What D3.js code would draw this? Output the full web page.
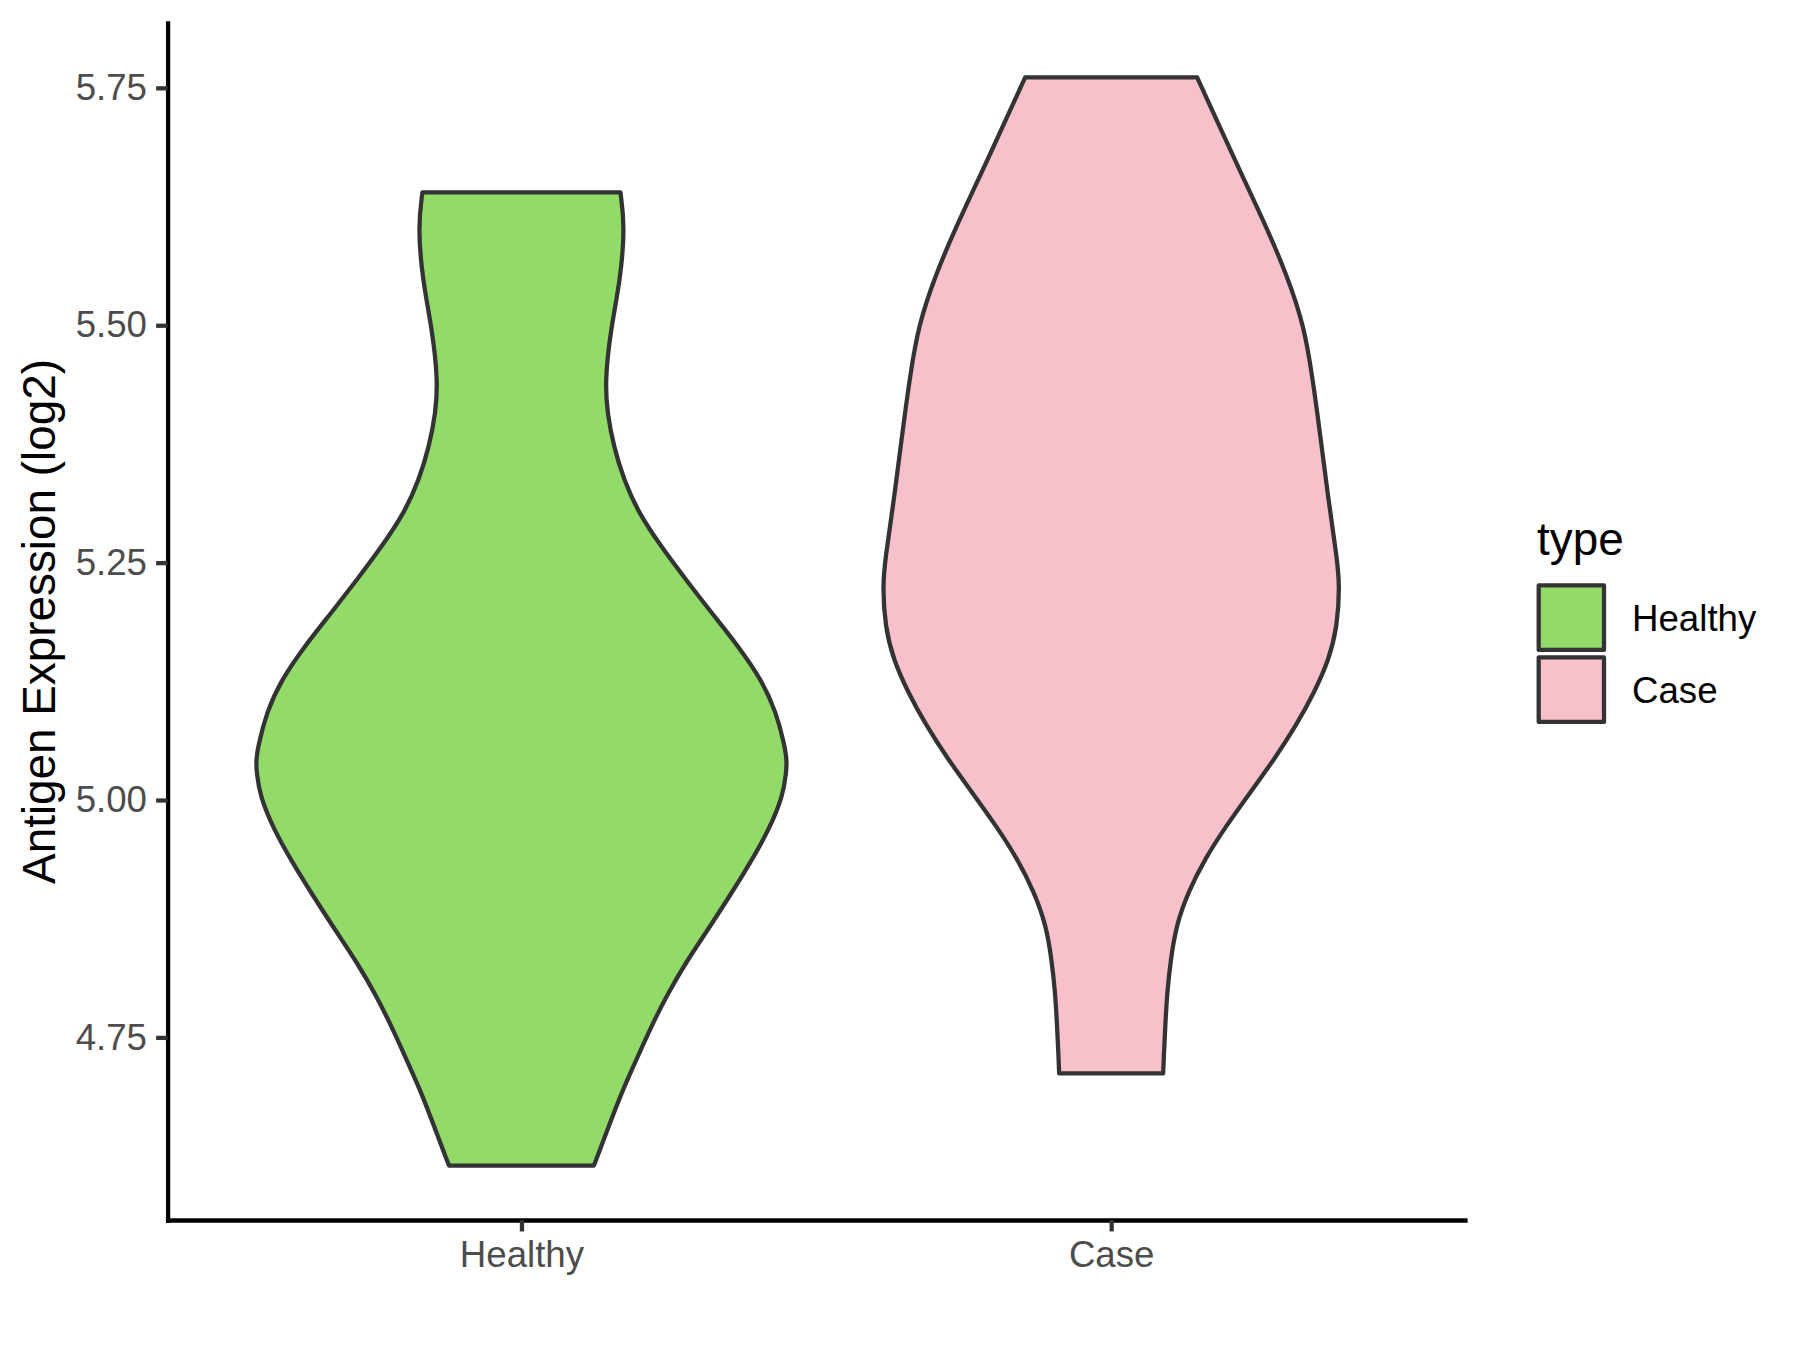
<!DOCTYPE html>
<html>
<head>
<meta charset="utf-8">
<script src="https://cdn.jsdelivr.net/npm/d3@7"></script>
<style>
	html, body { margin: 0; padding: 0; background: #fff; }
	svg { display: block; font-family: 'Liberation Sans', Arial, sans-serif; }
</style>
</head>
<body>
<svg id="violin-chart"></svg>
<script>
// groups and fills
var categories = ['Healthy', 'Case'];
var fills = ['#93DB69', '#F7C0CB'];
var yTicks = [4.75, 5.00, 5.25, 5.50, 5.75];

// violin outlines: expression level and relative density (1 = widest)
var healthyY = [5.640, 5.604, 5.548, 5.495, 5.442, 5.408, 5.372, 5.337, 5.303, 5.267, 5.232, 5.197, 5.162, 5.127,
	5.092, 5.057, 5.042, 5.029, 5.004, 4.970, 4.935, 4.899, 4.864, 4.830, 4.794, 4.759, 4.724, 4.689, 4.654, 4.615];
var healthyDensity = [0.373, 0.390, 0.373, 0.336, 0.315, 0.323, 0.348, 0.386, 0.440, 0.526, 0.620, 0.717, 0.817, 0.904,
	0.961, 0.992, 1.000, 0.998, 0.985, 0.935, 0.865, 0.785, 0.704, 0.622, 0.547, 0.485, 0.429, 0.373, 0.326, 0.273];

var caseY = [5.761, 5.709, 5.656, 5.604, 5.551, 5.499, 5.446, 5.393, 5.323, 5.253, 5.225, 5.183, 5.148, 5.113,
	5.078, 5.043, 5.008, 4.973, 4.938, 4.903, 4.868, 4.833, 4.798, 4.763, 4.728, 4.712];
var caseDensity = [0.324, 0.409, 0.496, 0.584, 0.665, 0.727, 0.758, 0.784, 0.815, 0.852, 0.861, 0.852, 0.821, 0.765,
	0.696, 0.615, 0.524, 0.434, 0.353, 0.290, 0.245, 0.225, 0.211, 0.204, 0.198, 0.196];

var width = 1800,
    height = 1350;

var panel = {left: 167.6, right: 1465, top: 23, bottom: 1220};

var lw = 4.27,            // 0.5mm at 300dpi
    tickLen = 11.46,
    tickPad = 9.17,
    axisFont = 36.67,
    titleFont = 45.83;

var svg = d3.select('#violin-chart')
	.attr('width', width)
	.attr('height', height);

svg.append('rect')
	.attr('width', width)
	.attr('height', height)
	.attr('fill', '#fff');

var groups = [
	{name: categories[0], fill: fills[0], pts: healthyY.map((y, i) => ({y: y, d: healthyDensity[i]}))},
	{name: categories[1], fill: fills[1], pts: caseY.map((y, i) => ({y: y, d: caseDensity[i]}))}
];

// y range expanded by 5% like ggplot
var allY = healthyY.concat(caseY);
var ext = d3.extent(allY);
var pad = (ext[1] - ext[0]) * 0.05;

var y = d3.scaleLinear()
	.domain([ext[0] - pad, ext[1] + pad])
	.range([panel.bottom, panel.top]);

var x = d3.scalePoint()
	.domain(categories)
	.range([panel.left, panel.right])
	.padding(0.6);

var halfWidth = d3.scaleLinear()
	.domain([0, 1])
	.range([0, 0.45 * x.step()]);

// violins
var g = svg.append('g');

g.selectAll('path.violin')
	.data(groups)
	.enter()
	.append('path')
	.attr('class', 'violin')
	.attr('fill', d => d.fill)
	.attr('stroke', '#333333')
	.attr('stroke-width', lw)
	.attr('stroke-linejoin', 'round')
	.attr('d', grp => {
		var cx = x(grp.name);
		return d3.area()
			.y(p => y(p.y))
			.x0(p => cx - halfWidth(p.d))
			.x1(p => cx + halfWidth(p.d))
			.curve(d3.curveBasis)(grp.pts);
	});

// axes
var yAxis = d3.axisLeft(y)
	.tickValues(yTicks)
	.tickFormat(d3.format('.2f'))
	.tickSizeInner(tickLen)
	.tickSizeOuter(0)
	.tickPadding(tickPad);

var xAxis = d3.axisBottom(x)
	.tickSizeInner(tickLen)
	.tickSizeOuter(0)
	.tickPadding(tickPad);

var gy = svg.append('g')
	.attr('transform', `translate(${panel.left},0)`)
	.call(yAxis);

var gx = svg.append('g')
	.attr('transform', `translate(0,${panel.bottom})`)
	.call(xAxis);

[gx, gy].forEach(a => {
	a.select('.domain')
		.attr('stroke', '#000')
		.attr('stroke-width', lw)
		.attr('stroke-linecap', 'square');
	a.selectAll('.tick line')
		.attr('stroke', '#333333')
		.attr('stroke-width', lw);
	a.selectAll('.tick text')
		.attr('fill', '#4D4D4D')
		.style('font-size', axisFont + 'px')
		.style('font-family', "'Liberation Sans', Arial, sans-serif");
});

// y axis title
svg.append('text')
	.attr('transform', `translate(55,${(panel.top + panel.bottom) / 2}) rotate(-90)`)
	.attr('text-anchor', 'middle')
	.attr('fill', '#000')
	.style('font-size', titleFont + 'px')
	.text('Antigen Expression (log2)');

// legend
var legend = svg.append('g')
	.attr('transform', 'translate(1537,0)');

legend.append('text')
	.attr('x', 0)
	.attr('y', 555)
	.attr('fill', '#000')
	.style('font-size', titleFont + 'px')
	.text('type');

var keySize = 72,
    keyTop = 581.6;

var keys = legend.selectAll('.key')
	.data(groups)
	.enter()
	.append('g')
	.attr('class', 'key')
	.attr('transform', (d, i) => `translate(0,${keyTop + i * keySize})`);

keys.append('rect')
	.attr('x', 1.7)
	.attr('y', 3.7)
	.attr('width', 65.3)
	.attr('height', 64.6)
	.attr('fill', d => d.fill)
	.attr('stroke', '#333333')
	.attr('stroke-width', lw)
	.attr('stroke-linejoin', 'round');

keys.append('text')
	.attr('x', keySize + 23)
	.attr('y', keySize / 2)
	.attr('dy', '0.36em')
	.attr('fill', '#000')
	.style('font-size', axisFont + 'px')
	.text(d => d.name);
</script>
</body>
</html>
